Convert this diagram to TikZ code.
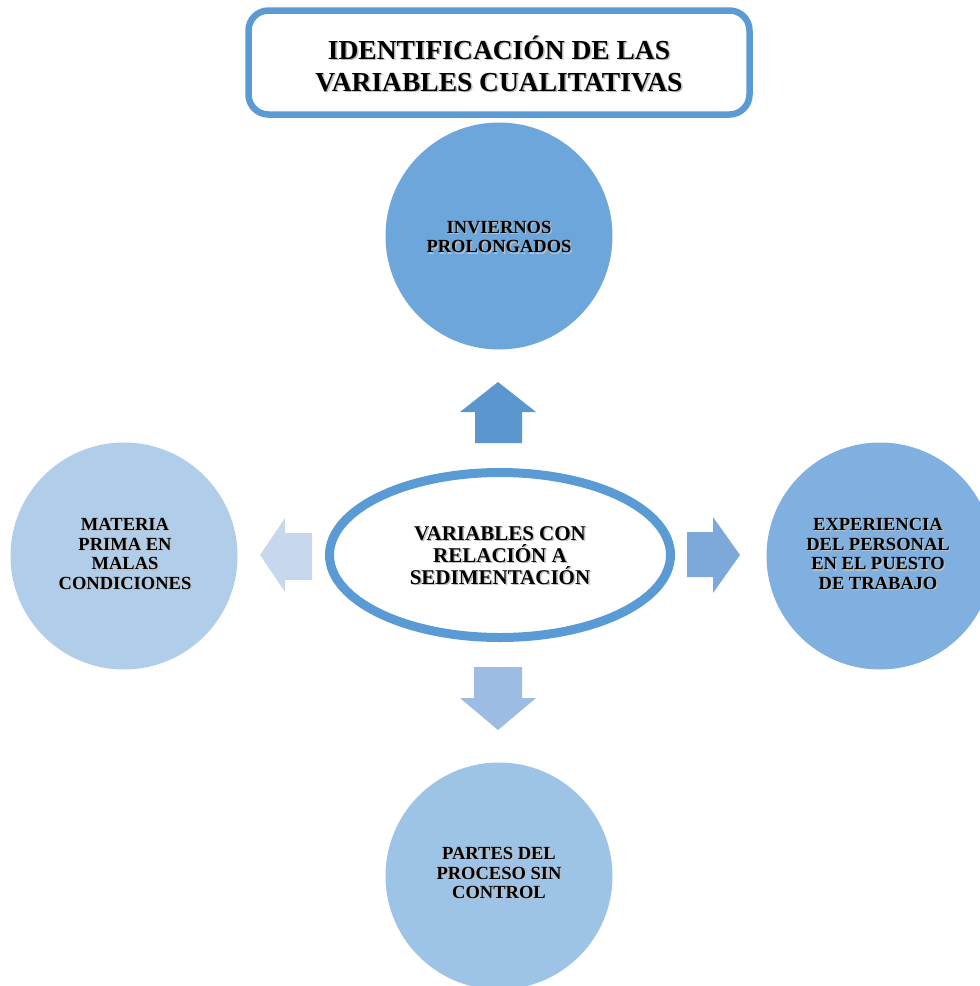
\documentclass[tikz,border=0pt]{standalone}
\usepackage{fontspec}
\setmainfont{Liberation Serif}
\definecolor{frameblue}{HTML}{5B9BD5}
\definecolor{topfill}{HTML}{6CA6DB}
\definecolor{rightfill}{HTML}{80B0DF}
\definecolor{bottomfill}{HTML}{9DC3E6}
\definecolor{leftfill}{HTML}{B0CDEA}
\definecolor{uparrow}{HTML}{5B96CF}
\definecolor{rightarrow}{HTML}{7DA9DA}
\definecolor{downarrow}{HTML}{9DBCE3}
\definecolor{leftarrow}{HTML}{C7D7EE}
\tikzset{
  bubble/.style={circle, minimum size=227pt, inner sep=0pt, draw=none},
  bubbletext/.style={align=center, inner sep=0pt,
    font=\fontsize{18.5}{19.8}\selectfont\bfseries},
  centertext/.style={align=center, inner sep=0pt,
    font=\fontsize{21}{22}\selectfont\bfseries},
  titletext/.style={align=center, inner sep=0pt,
    font=\fontsize{27.5}{32}\selectfont\bfseries},
  shade/.style={text=black!25},
}
\begin{document}
\begin{tikzpicture}[x=1pt, y=-1pt]
  \useasboundingbox (0,0) rectangle (980,986);
  \clip (0,0) rectangle (980,986);

  % title frame
  \node[draw=frameblue, line width=6.5pt, rounded corners=20pt, fill=white,
        minimum width=501pt, minimum height=104pt, inner sep=0pt]
        (title) at (499,62.5) {};
  \node[titletext, shade] (titlesh) at (500.5,65) {IDENTIFICACIÓN DE LAS\\VARIABLES CUALITATIVAS};
  \node[titletext] (titletxt) at (499,63.5) {IDENTIFICACIÓN DE LAS\\VARIABLES CUALITATIVAS};

  % surrounding circles
  \node[bubble, fill=topfill] (top) at (499,236) {};
  \node[bubble, fill=rightfill] (right) at (880,556) {};
  \node[bubble, fill=bottomfill] (bottom) at (499,876) {};
  \node[bubble, fill=leftfill] (left) at (124,556) {};

  % circle labels
  \node[bubbletext, shade] at (500.2,238.2) {INVIERNOS\\PROLONGADOS};
  \node[bubbletext] (toptxt) at (499,237) {INVIERNOS\\PROLONGADOS};
  \node[bubbletext, shade] at (879.2,555.2) {EXPERIENCIA\\DEL PERSONAL\\EN EL PUESTO\\DE TRABAJO};
  \node[bubbletext] (righttxt) at (878,554) {EXPERIENCIA\\DEL PERSONAL\\EN EL PUESTO\\DE TRABAJO};
  \node[bubbletext, shade] at (500.2,874.2) {PARTES DEL\\PROCESO SIN\\CONTROL};
  \node[bubbletext] (bottomtxt) at (499,873) {PARTES DEL\\PROCESO SIN\\CONTROL};
  \node[bubbletext, shade] at (126.2,555.2) {MATERIA\\PRIMA EN\\MALAS\\CONDICIONES};
  \node[bubbletext] (lefttxt) at (125,554) {MATERIA\\PRIMA EN\\MALAS\\CONDICIONES};

  % central ellipse
  \draw[frameblue, line width=9pt, fill=white] (500,555) ellipse [x radius=170.5, y radius=82.5];
  \node[centertext, shade] (centersh) at (501.5,557) {VARIABLES CON\\RELACIÓN A\\SEDIMENTACIÓN};
  \node[centertext] (center) at (500,555.5) {VARIABLES CON\\RELACIÓN A\\SEDIMENTACIÓN};

  % block arrows pointing outwards
  \fill[uparrow] (498,382) -- (536,412) -- (522,412) -- (522,443)
    -- (475,443) -- (475,412) -- (460,412) -- cycle;
  \fill[rightarrow] (740,555) -- (713,593) -- (713,577) -- (687,577)
    -- (687,532) -- (713,532) -- (713,517) -- cycle;
  \fill[downarrow] (498,730) -- (536,698) -- (522,698) -- (522,667)
    -- (474,667) -- (474,698) -- (460,698) -- cycle;
  \fill[leftarrow] (260,555) -- (285,518) -- (285,533) -- (312,533)
    -- (312,580) -- (285,580) -- (285,592) -- cycle;
\end{tikzpicture}
\end{document}
